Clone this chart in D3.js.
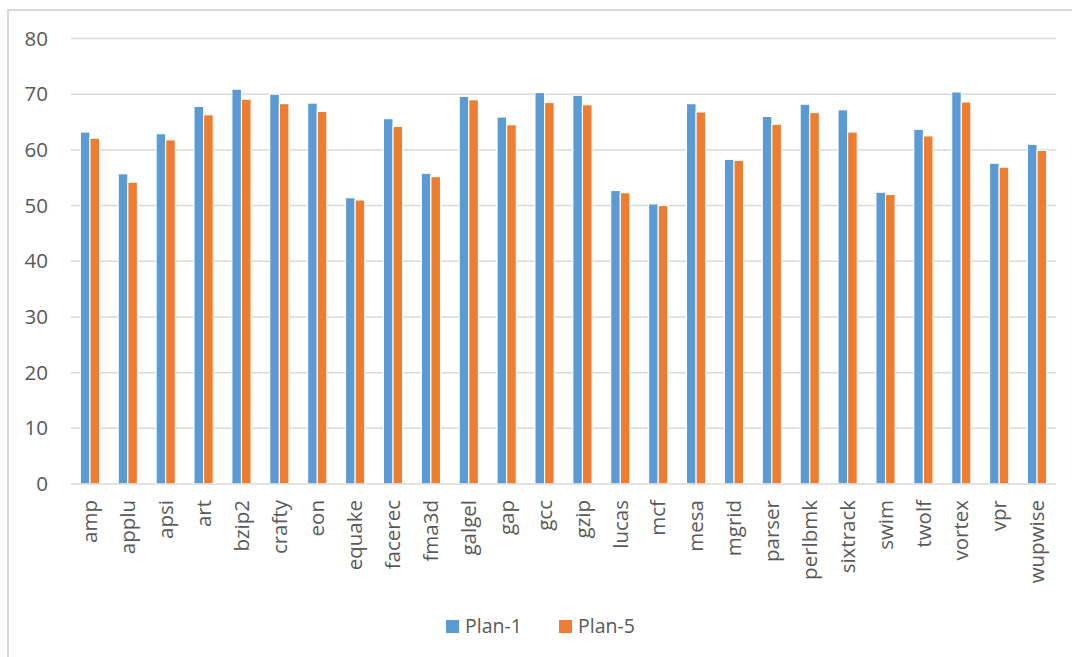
<!DOCTYPE html>
<html>
<head>
<meta charset="utf-8">
<script src="https://cdn.jsdelivr.net/npm/d3@7"></script>
<style>
  html, body { margin: 0; padding: 0; background: #fff; }
  svg { display: block; }
</style>
</head>
<body>
<svg id="chart" width="1072" height="657"></svg>
<script>
// Benchmarks on the x axis
const categories = ["amp", "applu", "apsi", "art", "bzip2", "crafty", "eon", "equake", "facerec",
  "fma3d", "galgel", "gap", "gcc", "gzip", "lucas", "mcf", "mesa", "mgrid", "parser", "perlbmk",
  "sixtrack", "swim", "twolf", "vortex", "vpr", "wupwise"];

// Series values
const plan1 = [63.2, 55.7, 62.9, 67.8, 70.9, 70.0, 68.4, 51.4, 65.6, 55.8, 69.6, 65.9, 70.3,
  69.8, 52.7, 50.3, 68.3, 58.3, 66.0, 68.2, 67.2, 52.4, 63.7, 70.4, 57.6, 61.0];
const plan5 = [62.1, 54.2, 61.8, 66.3, 69.1, 68.3, 66.9, 51.0, 64.2, 55.2, 69.0, 64.5, 68.5,
  68.1, 52.3, 50.0, 66.8, 58.1, 64.6, 66.7, 63.2, 52.0, 62.5, 68.6, 56.9, 59.9];

const seriesNames = ["Plan-1", "Plan-5"];
const yTicks = [0, 10, 20, 30, 40, 50, 60, 70, 80];

const colors = { "Plan-1": "#5B9BD5", "Plan-5": "#ED7D31" };
const textColor = "#595959";
const gridColor = "#D9D9D9";
const font = "'Open Sans', 'Noto Sans', sans-serif";

const svg = d3.select("#chart");

// Chart frame (left and top edges)
svg.append("path")
  .attr("d", "M8,657 V10 H1072")
  .attr("fill", "none")
  .attr("stroke", gridColor)
  .attr("stroke-width", 2);

const plot = { left: 71, right: 1056, top: 38.5, bottom: 484 };

const x = d3.scaleBand()
  .domain(categories)
  .range([plot.left, plot.right])
  .paddingInner(0)
  .paddingOuter(0);

const y = d3.scaleLinear()
  .domain([0, 80])
  .range([plot.bottom, plot.top]);

// Horizontal gridlines
svg.append("g")
  .selectAll("line")
  .data(yTicks.filter(d => d !== 0))
  .join("line")
  .attr("x1", plot.left)
  .attr("x2", plot.right)
  .attr("y1", d => y(d))
  .attr("y2", d => y(d))
  .attr("stroke", gridColor)
  .attr("stroke-width", 1.5);

// Y axis labels
const yAxis = d3.axisLeft(y).tickValues(yTicks).tickSize(0).tickPadding(0);
const yg = svg.append("g")
  .attr("transform", `translate(${plot.left - 23},0)`)
  .call(yAxis);
yg.select(".domain").remove();
yg.selectAll("text")
  .attr("fill", textColor)
  .style("font-family", font)
  .style("font-size", "20.5px");

// Bars
const barW = 9.6;
const groupW = barW * seriesNames.length;
const seriesData = { "Plan-1": plan1, "Plan-5": plan5 };

seriesNames.forEach((name, si) => {
  svg.append("g")
    .selectAll("rect")
    .data(categories.map((c, i) => ({ c, v: seriesData[name][i] })))
    .join("rect")
    .attr("x", d => x(d.c) + x.bandwidth() / 2 - groupW / 2 + si * barW)
    .attr("y", d => y(d.v))
    .attr("width", barW)
    .attr("height", d => y(0) - y(d.v))
    .attr("fill", colors[name])
    .attr("stroke", "#fff")
    .attr("stroke-width", 1.1);
});

// X axis baseline
svg.append("line")
  .attr("x1", plot.left)
  .attr("x2", plot.right)
  .attr("y1", y(0))
  .attr("y2", y(0))
  .attr("stroke", gridColor)
  .attr("stroke-width", 1.5);

// Category labels, rotated
const xAxis = d3.axisBottom(x).tickSize(0).tickPadding(0);
const xg = svg.append("g")
  .attr("transform", `translate(0,${plot.bottom})`)
  .call(xAxis);
xg.select(".domain").remove();
xg.selectAll("text")
  .attr("fill", textColor)
  .style("font-family", font)
  .style("font-size", "20.5px")
  .attr("transform", "rotate(-90)")
  .attr("text-anchor", "end")
  .attr("x", -16)
  .attr("y", 0)
  .attr("dy", "0.35em");

// Legend
const legend = svg.append("g");
const legendItems = [
  { name: "Plan-1", x: 446 },
  { name: "Plan-5", x: 559 }
];
legendItems.forEach(item => {
  legend.append("rect")
    .attr("x", item.x)
    .attr("y", 620)
    .attr("width", 13)
    .attr("height", 13)
    .attr("fill", colors[item.name]);
  legend.append("text")
    .attr("x", item.x + 19)
    .attr("y", 626.5)
    .attr("dy", "0.35em")
    .attr("fill", textColor)
    .style("font-family", font)
    .style("font-size", "19.5px")
    .text(item.name);
});
</script>
</body>
</html>
